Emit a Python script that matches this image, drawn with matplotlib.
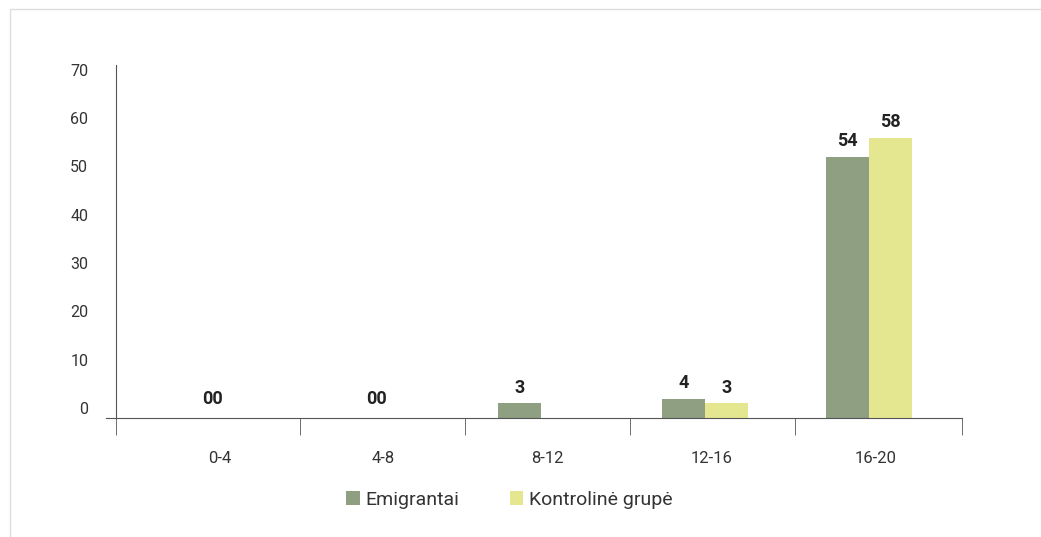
import matplotlib.pyplot as plt
from matplotlib.transforms import ScaledTranslation
from matplotlib.patches import Rectangle
import numpy as np

plt.rcParams['font.family'] = ['Roboto', 'DejaVu Sans']

groups = ["0-4", "4-8", "8-12", "12-16", "16-20"]
emigrantai = [0, 0, 3, 4, 54]
kontroline = [0, 0, 0, 3, 58]
series_names = ["Emigrantai", "Kontrolinė grupė"]
yticks = [0, 10, 20, 30, 40, 50, 60, 70]

green = "#8f9f82"
yellow = "#e4e790"

fig = plt.figure(figsize=(10.41, 5.37), dpi=100)
fig.patches.append(Rectangle((10 / 1041, -0.1), 1.2, 1 - 9 / 537 + 0.1,
                             transform=fig.transFigure, fill=False,
                             edgecolor="#dddddd", linewidth=1))
ax = fig.add_axes([106 / 1041, 119 / 537, 856 / 1041, 353 / 537])

x = np.arange(len(groups))
w = 0.262
b1 = ax.bar(x - w / 2, emigrantai, w, color=green, label=series_names[0])
b2 = ax.bar(x + w / 2, kontroline, w, color=yellow, label=series_names[1])

# value labels
lab_kw = dict(textcoords="offset points", ha="center", va="bottom",
              fontsize=13, fontweight="bold", color="#222222")
for i in range(len(groups)):
    a, b = emigrantai[i], kontroline[i]
    if a == 0 and b == 0:
        ax.annotate(f"{a}{b}", (x[i], 0), xytext=(0, 7), **lab_kw)
        continue
    for xi, v in ((x[i] - w / 2, a), (x[i] + w / 2, b)):
        if v == 0:
            continue
        ax.annotate(str(v), (xi, v), xytext=(0, 5), **lab_kw)

ax.set_xlim(-0.652, 4.567)
ax.set_ylim(0, 73)
for s in ["top", "right"]:
    ax.spines[s].set_visible(False)
ax.spines["left"].set_position(("data", -0.591))
ax.spines["left"].set_color("#555555")
ax.spines["bottom"].set_color("#555555")

ax.set_xticks(x + 0.04)
ax.set_xticklabels(groups, fontsize=12, color="#333333")
ax.tick_params(axis="x", which="major", length=0, pad=24)
ax.set_xticks([-0.591, 0.53, 1.537, 2.543, 3.549, 4.567], minor=True)
ax.tick_params(axis="x", which="minor", length=12, color="#555555", direction="out")

ax.set_yticks(yticks)
ax.set_yticklabels([str(t) for t in yticks], fontsize=11.5, color="#333333")
ax.tick_params(axis="y", length=0, pad=20)
offset = ScaledTranslation(0, 10 / 100, fig.dpi_scale_trans)
for lab in ax.get_yticklabels():
    lab.set_transform(lab.get_transform() + offset)

fig.legend(handles=[b1, b2], loc="center", bbox_to_anchor=(0.4894, 0.069), ncol=2,
           frameon=False, fontsize=14, handlelength=0.68, handleheight=0.68,
           handletextpad=0.3, columnspacing=2.6, labelcolor="#333333")

fig.savefig("out.png", dpi=100)
